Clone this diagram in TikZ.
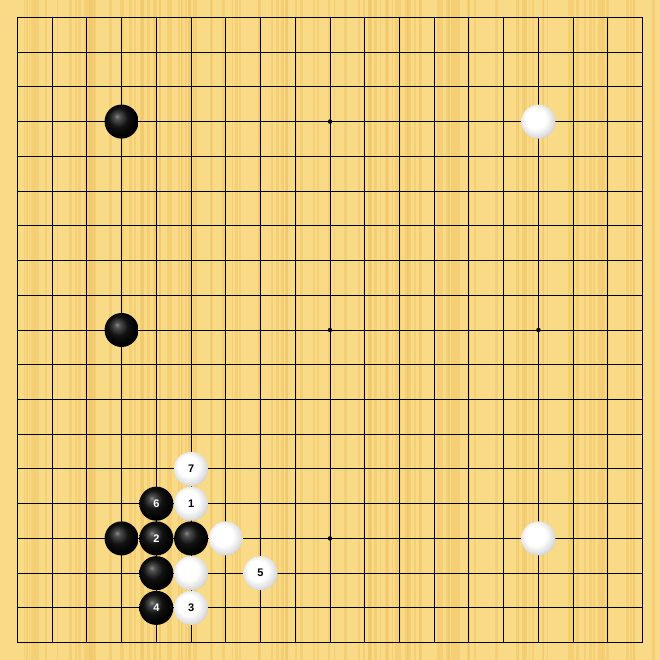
\documentclass[tikz,border=0pt]{standalone}
\usepackage{fontspec}
\setsansfont{Liberation Sans}
\usepackage{tikz}
\usetikzlibrary{positioning}
\definecolor{boardwood}{RGB}{249,218,134}
\definecolor{woodgrain}{RGB}{240,198,104}
\pgfdeclareradialshading{blackstone}{\pgfpoint{-7bp}{8bp}}{color(0bp)=(black!45); color(4bp)=(black!68); color(14bp)=(black!93); color(25bp)=(black); color(50bp)=(black)}
\pgfdeclareradialshading{whitestone}{\pgfpoint{-6bp}{6bp}}{color(0bp)=(white); color(15bp)=(white); color(26bp)=(black!14); color(36bp)=(black!35); color(50bp)=(black!35)}

\begin{document}
\begin{tikzpicture}[
			x=1cm,y=1cm,
			stone/.style={circle,inner sep=0pt,minimum size=0.98cm,font=\sffamily\bfseries\small},
			bstone/.style={stone,shading=blackstone,text=white},
			wstone/.style={stone,shading=whitestone,text=black},
			star/.style={circle,fill=black,inner sep=0pt,minimum size=3.6pt}
			]

			% board
			\fill[boardwood] (0,0) rectangle (19,19);
			\pgfmathsetseed{5}
			\foreach \i in {1,...,120}
				{
				\pgfmathsetmacro{\sx}{19*rnd}
				\fill[woodgrain,opacity=0.5] (\sx,0) rectangle ++({0.03+0.07*rnd},19);
				}

			% grid
			\foreach \i in {1,...,17}
				{
				\draw[line width=0.8pt] (\i+0.5,0.5) -- (\i+0.5,18.5);
				\draw[line width=0.8pt] (0.5,\i+0.5) -- (18.5,\i+0.5);
				}
			\draw[line width=1.4pt] (0.5,0.5) rectangle (18.5,18.5);

			% hoshi
			\node[star] (s1) at (9.5,15.5) {};
			\node[star] (s2) at (9.5,9.5) {};
			\node[star] (s3) at (15.5,9.5) {};
			\node[star] (s4) at (9.5,3.5) {};

			% stones already on the board
			\node[bstone] (b1) at (3.5,15.5) {};
			\node[wstone] (w1) at (15.5,15.5) {};
			\node[bstone] (b2) at (3.5,9.5) {};
			\node[wstone] (w2) at (15.5,3.5) {};
			\node[bstone] (b3) at (3.5,3.5) {};
			\node[bstone] (b4) at (5.5,3.5) {};
			\node[bstone] (b5) at (4.5,2.5) {};
			\node[wstone] (w3) at (6.5,3.5) {};
			\node[wstone] (w4) at (5.5,2.5) {};

			% numbered moves
			\node[wstone] (m1) at (5.5,4.5) {1};
			\node[bstone] (m2) at (4.5,3.5) {2};
			\node[wstone] (m3) at (5.5,1.5) {3};
			\node[bstone] (m4) at (4.5,1.5) {4};
			\node[wstone] (m5) at (7.5,2.5) {5};
			\node[bstone] (m6) at (4.5,4.5) {6};
			\node[wstone] (m7) at (5.5,5.5) {7};

		\end{tikzpicture}
\end{document}
